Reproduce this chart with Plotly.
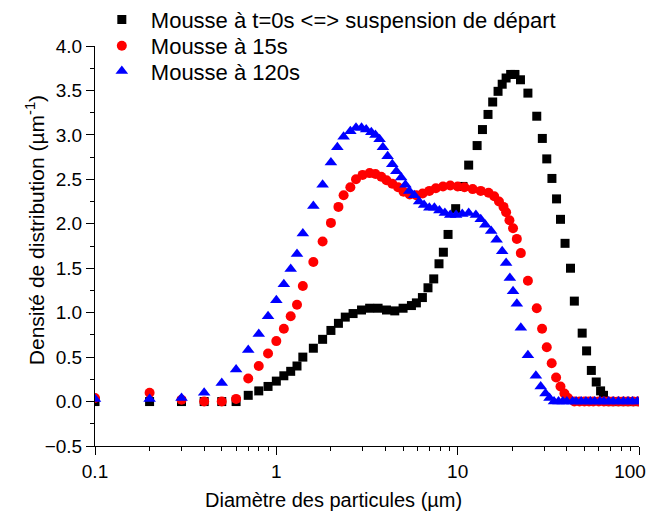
import plotly.graph_objects as go

# Diamètre (µm) and density values
x_t0 = [0.1, 0.2, 0.3, 0.4, 0.5, 0.6, 0.7, 0.8, 0.9, 1.0, 1.1, 1.2, 1.3, 1.4, 1.6, 1.8, 2.0, 2.2, 2.4,
        2.65, 2.95, 3.27, 3.64, 4.05, 4.5, 5.0, 5.56, 5.92, 6.39, 6.86, 7.38, 7.89, 8.34, 8.85, 9.75,
        10.7, 11.5, 12.8, 13.7, 14.7, 15.6, 16.7, 17.6, 18.5, 19.6, 20.7, 22.2, 24.4, 27.3, 29.3, 31.0,
        33.1, 35.1, 36.9, 39.1, 41.9, 44.0, 48.6, 51.4, 54.6, 58.1, 61.4, 63.7, 67, 70.5, 75, 79, 84,
        88.7, 93, 98]
y_t0 = [0, 0, 0, 0, 0, 0.0, 0.07, 0.12, 0.17, 0.23, 0.29, 0.34, 0.40, 0.50, 0.60, 0.70, 0.80, 0.88, 0.95,
        0.99, 1.03, 1.05, 1.05, 1.03, 1.02, 1.05, 1.08, 1.11, 1.17, 1.28, 1.38, 1.55, 1.68, 1.88, 2.17,
        2.42, 2.66, 2.88, 3.06, 3.23, 3.37, 3.49, 3.57, 3.64, 3.68, 3.68, 3.62, 3.47, 3.21, 2.96, 2.73,
        2.51, 2.28, 2.05, 1.78, 1.50, 1.13, 0.77, 0.57, 0.35, 0.22, 0.12, 0.07, 0, 0, 0, 0, 0,
        0, 0, 0]

x_15 = [0.1, 0.2, 0.3, 0.4, 0.5, 0.6, 0.7, 0.8, 0.9, 1.0, 1.1, 1.2, 1.3, 1.4, 1.6, 1.8, 2.0, 2.2, 2.35,
        2.56, 2.75, 2.99, 3.27, 3.52, 3.79, 4.05, 4.36, 4.69, 5.03, 5.44, 5.91, 6.41, 6.98, 7.58, 8.3,
        9.1, 10.0, 10.9, 12.1, 13.4, 14.8, 15.9, 16.9, 17.9, 18.5, 19.3, 20.2, 21.2, 22.3, 24.4, 27.3,
        29.2, 31.0, 33.0, 34.9, 36.9, 38.8, 40.6, 44, 47, 50, 53, 56, 60, 64, 68, 72, 77, 82, 87, 93, 99]
y_15 = [0.04, 0.10, 0.02, 0.0, 0.0, 0.03, 0.26, 0.40, 0.54, 0.68, 0.82, 0.96, 1.09, 1.30, 1.57, 1.80, 2.01,
        2.19, 2.32, 2.41, 2.50, 2.55, 2.57, 2.56, 2.53, 2.49, 2.45, 2.41, 2.36, 2.33, 2.32, 2.34, 2.37,
        2.40, 2.42, 2.43, 2.42, 2.41, 2.39, 2.37, 2.35, 2.31, 2.25, 2.19, 2.13, 2.04, 1.95, 1.83, 1.67,
        1.36, 1.05, 0.82, 0.61, 0.43, 0.27, 0.17, 0.09, 0.04, 0, 0, 0, 0, 0, 0, 0, 0, 0, 0, 0, 0, 0, 0]

x_120 = [0.1, 0.2, 0.3, 0.4, 0.5, 0.6, 0.7, 0.8, 0.9, 1.0, 1.1, 1.2, 1.3, 1.4, 1.6, 1.8, 2.0, 2.17, 2.35,
         2.56, 2.75, 2.95, 3.13, 3.34, 3.52, 3.71, 3.87, 4.11, 4.36, 4.59, 4.88, 5.15, 5.41, 5.76, 6.13,
         6.53, 6.98, 7.44, 7.93, 8.5, 9.1, 9.8, 10.6, 11.5, 12.6, 13.4, 14.2, 15.3, 16.4, 17.6, 18.5, 19.4,
         20.2, 21.2, 22.3, 24.4, 27.0, 28.7, 30.5, 32.1, 34, 36, 38, 40, 43, 45, 48, 51, 54, 57, 61, 64,
         68, 72, 77, 82, 87, 92, 98]
y_120 = [0.03, 0.03, 0.04, 0.10, 0.21, 0.36, 0.58, 0.76, 0.96, 1.14, 1.32, 1.49, 1.66, 1.89, 2.20, 2.44,
         2.69, 2.86, 2.98, 3.04, 3.08, 3.08, 3.06, 3.03, 3.00, 2.95, 2.86, 2.76, 2.67, 2.59, 2.52, 2.44,
         2.37, 2.32, 2.25, 2.21, 2.18, 2.18, 2.15, 2.12, 2.10, 2.10, 2.11, 2.12, 2.10, 2.05, 1.99, 1.92,
         1.82, 1.69, 1.56, 1.39, 1.24, 1.10, 0.83, 0.52, 0.29, 0.17, 0.09, 0.04, 0, 0, 0, 0, 0, 0, 0, 0,
         0, 0, 0, 0, 0, 0, 0, 0, 0, 0, 0]

names = ["Mousse à t=0s &lt;=&gt; suspension de départ", "Mousse à 15s", "Mousse à 120s"]

x_tickvals = [0.1, 1, 10]
x_ticktext = ["0.1", "1", "10"]
x_last_tickval = [100]
x_last_ticktext = ["100"]
x_minor = [m * d for d in (0.1, 1, 10) for m in range(2, 10)]

x_title = "Diamètre des particules (µm)"
y_title = "Densité de distribution (µm<sup>-1</sup>)"

FONT = "Liberation Sans, Arial, Helvetica, sans-serif"

fig = go.Figure()
fig.add_trace(go.Scatter(x=x_t0, y=y_t0, mode="markers", name=names[0], legend="legend",
                         marker=dict(symbol="square", size=9, color="black", line=dict(width=0))))
fig.add_trace(go.Scatter(x=x_15, y=y_15, mode="markers", name=names[1], legend="legend2",
                         marker=dict(symbol="circle", size=10, color="#ff0000", line=dict(width=0))))
# drawn on the overlaid twin x-axis (identical log range) that carries the "100" label
fig.add_trace(go.Scatter(x=x_120, y=y_120, mode="markers", name=names[2], legend="legend3",
                         xaxis="x2", yaxis="y",
                         marker=dict(symbol="triangle-up", size=11, color="#0000ff", line=dict(width=0))))

leg_common = dict(x=-0.004, xanchor="left", yanchor="middle", bgcolor="rgba(0,0,0,0)",
                  font=dict(size=22, family=FONT, color="black"), itemwidth=48)

fig.update_layout(
    width=646, height=512,
    margin=dict(l=87, r=15, t=38, b=74, autoexpand=False),
    paper_bgcolor="white", plot_bgcolor="white",
    font=dict(family=FONT, size=19, color="black"),
    legend=dict(y=1.066, **leg_common),
    legend2=dict(y=1.0, **leg_common),
    legend3=dict(y=0.937, **leg_common),
    showlegend=True,
    xaxis=dict(
        type="log", range=[-1, 2], tickvals=x_tickvals, ticktext=x_ticktext,
        showline=True, linecolor="black", linewidth=1, mirror=False,
        ticks="outside", ticklen=8, tickcolor="black", showgrid=False, zeroline=False,
        minor=dict(tickvals=x_minor, ticks="outside", ticklen=4, tickcolor="black", showgrid=False),
        tickfont=dict(size=19), ticklabeloverflow="allow",
    ),
    xaxis2=dict(
        overlaying="x", anchor="y", side="bottom", type="log", range=[-1, 2],
        tickvals=x_last_tickval, ticktext=x_last_ticktext, tickfont=dict(size=19),
        ticks="outside", ticklen=8, tickcolor="black", showline=False,
        showgrid=False, zeroline=False, ticklabelshift=-9, ticklabeloverflow="allow",
    ),
    yaxis=dict(
        range=[-0.5, 4.0], dtick=0.5, tick0=0, tickformat=".1f",
        showline=True, linecolor="black", linewidth=1, mirror=False,
        ticks="outside", ticklen=8, tickcolor="black", showgrid=False, zeroline=False,
        minor=dict(dtick=0.25, ticks="outside", ticklen=4, tickcolor="black", showgrid=False),
        tickfont=dict(size=19), ticklabeloverflow="allow",
    ),
    annotations=[
        dict(text=x_title, xref="paper", yref="paper", x=0.4375, y=-0.135,
             xanchor="center", yanchor="middle", showarrow=False, font=dict(size=20)),
        dict(text=y_title, xref="paper", yref="paper", x=-0.11, y=0.54, textangle=-90,
             xanchor="center", yanchor="middle", showarrow=False, font=dict(size=21)),
    ],
)

fig.write_html("out.html")
